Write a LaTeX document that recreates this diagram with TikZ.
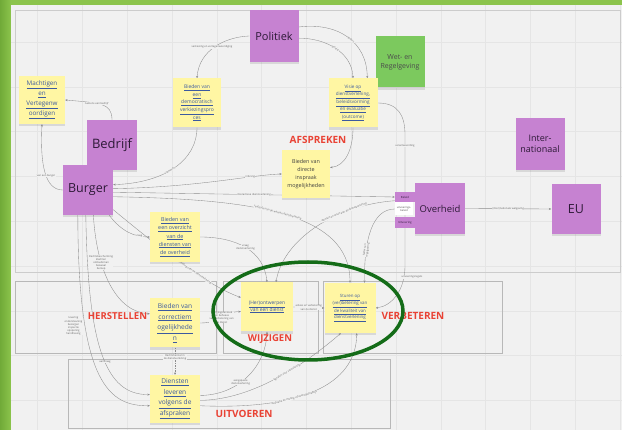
\documentclass[tikz,border=0pt]{standalone}
\usepackage{fontspec}
\setmainfont{Open Sans}
\usetikzlibrary{arrows.meta,shadows}
\definecolor{canvasc}{RGB}{241,241,241}
\definecolor{frameg}{RGB}{140,196,76}
\definecolor{frameg2}{RGB}{112,170,56}
\definecolor{purp}{RGB}{198,130,209}
\definecolor{purptxt}{RGB}{45,25,55}
\definecolor{notey}{RGB}{255,246,163}
\definecolor{noteg}{RGB}{124,201,94}
\definecolor{linkc}{RGB}{60,90,160}
\definecolor{redlab}{RGB}{233,66,52}
\definecolor{connc}{RGB}{140,140,140}
\definecolor{ringc}{RGB}{20,108,24}
\definecolor{gridc}{RGB}{229,229,229}
\pgfdeclarelayer{back}
\pgfdeclarelayer{edges}
\pgfsetlayers{back,edges,main}
\newcommand{\lk}[1]{\underline{#1}}
\newcommand{\fs}[2]{\fontsize{#1}{#2}\selectfont}
\tikzset{
  note/.style={inner sep=0pt, align=center, drop shadow={opacity=0.22, shadow xshift=0pt, shadow yshift=-2.2pt}},
  pnote/.style={note, fill=purp, text=purptxt},
  ynote/.style={note, fill=notey, text=linkc},
  gnote/.style={note, fill=noteg, text=black!70},
  tabbox/.style={fill=purp, text=purptxt, inner sep=0pt, minimum width=20pt, font=\fs{2.8}{3.2}},
  redl/.style={text=redlab, font=\bfseries\fs{10}{12}},
  region/.style={draw=black!28, line width=0.6pt},
  conn/.style={draw=connc, line width=0.35pt, -{Stealth[length=2.4pt,width=2pt]}},
  lbl/.style={font=\fs{2.6}{3.1}, text=black!62, fill=canvasc, inner sep=0.3pt, align=center},
}
\begin{document}
\begin{tikzpicture}[x=1pt,y=-1pt]
\useasboundingbox (0,0) rectangle (622,430);

\begin{pgfonlayer}{back}
  \fill[frameg] (0,0) rectangle (622,430);
  \shade[left color=frameg2, right color=frameg] (0,0) rectangle (11,430);
  \fill[canvasc] (11,5) rectangle (622,430);
  \foreach \i in {0,...,13} {\draw[gridc, line width=0.3pt] ({37.5+44.8*\i},5) -- ({37.5+44.8*\i},430);}
  \foreach \j in {0,...,8} {\draw[gridc, line width=0.3pt] (11,{42+44.8*\j}) -- (622,{42+44.8*\j});}
  \draw[black!20, line width=0.8pt] (15,10) rectangle (620,272);
  \draw[region] (15,281) rectangle (216,353);
  \draw[region] (223,281) rectangle (318,353);
  \draw[region] (323,281) rectangle (502,353);
  \draw[region] (68,359) rectangle (390,428);
\end{pgfonlayer}

% nodes
\node[pnote, minimum width=49pt, minimum height=52pt, font=\fs{11}{13}] (politiek) at (274,36) {Politiek};
\node[gnote, minimum width=49pt, minimum height=51pt, font=\fs{7}{9}] (wet) at (400,62) {Wet- en\\Regelgeving};
\node[pnote, minimum width=49pt, minimum height=52pt, font=\fs{9}{11.5}] (inter) at (540,144) {Inter-\\nationaal};
\node[ynote, minimum width=46pt, minimum height=48pt, font=\fs{6.3}{10}] (macht) at (42,100) {\lk{Machtigen}\\\lk{en}\\\lk{Vertegenw}\\\lk{oordigen}};
\node[pnote, minimum width=50pt, minimum height=50pt, font=\fs{13}{15}] (bedrijf) at (112,145) {Bedrijf};
\node[pnote, minimum width=50pt, minimum height=50pt, font=\fs{12.5}{15}] (burger) at (88,190) {Burger};
\node[ynote, minimum width=48pt, minimum height=49pt, font=\fs{5}{7.6}] (demo) at (197,103) {\lk{Bieden van}\\\lk{een}\\\lk{democratisch}\\\lk{verkiezingspro}\\\lk{ces}};
\node[ynote, minimum width=49pt, minimum height=49pt, font=\fs{4.6}{7.4}] (visie) at (353,103) {\lk{Visie op}\\\lk{dienstverlening,}\\\lk{beleidsvorming}\\\lk{en evaluatie}\\\lk{(outcome)}};
\node[redl] (afspr) at (318,140) {AFSPREKEN};
\node[ynote, minimum width=48pt, minimum height=48pt, text=black!75, font=\fs{5.4}{8}] (inspraak) at (306,174) {Bieden van\\directe\\inspraak\\mogelijkheden};
\node[pnote, minimum width=50pt, minimum height=51pt, font=\fs{9.5}{11}] (overheid) at (440,208.5) {Overheid};
\node[tabbox, minimum height=10pt] (beleid) at (405,197) {Beleid};
\node[fill=white, inner sep=0pt, minimum width=18pt, minimum height=13pt, font=\fs{2.6}{3}, align=center, text=black!70] (uvb) at (404,209) {uitvoerings-\\beleid};
\node[tabbox, minimum height=11pt] (uitv) at (405,222.5) {Uitvoering};
\node[pnote, minimum width=49pt, minimum height=50pt, font=\fs{12.5}{15}] (eu) at (576,209) {EU};
\node[ynote, minimum width=50pt, minimum height=50pt, font=\fs{5.4}{8.2}] (overzicht) at (175,237) {\lk{Bieden van}\\\lk{een overzicht}\\\lk{van de}\\\lk{diensten van}\\\lk{de overheid}};
\node[ynote, minimum width=50pt, minimum height=49pt, font=\fs{6.6}{10.7}] (correctie) at (175,323) {\lk{Bieden van}\\\lk{correctiem}\\\lk{ogelijkhede}\\\lk{n}};
\node[ynote, minimum width=50pt, minimum height=48pt, font=\fs{6.6}{10.7}] (diensten) at (175,399) {\lk{Diensten}\\\lk{leveren}\\\lk{volgens de}\\\lk{afspraken}};
\node[ynote, minimum width=52pt, minimum height=49pt, font=\fs{4.9}{7}] (heront) at (267,307) {\lk{(Her)ontwerpen}\\\lk{van een dienst}};
\node[ynote, minimum width=51pt, minimum height=50pt, font=\fs{4.4}{6.2}] (sturen) at (350,308) {\lk{Sturen op}\\\lk{(ver)betering van}\\\lk{de kwaliteit van}\\\lk{dienstverlening}};

\node[redl, font=\bfseries\fs{9.6}{12}] (herst) at (117.5,316) {HERSTELLEN};
\node[redl, font=\bfseries\fs{9.5}{11}] (wijz) at (270,339) {WIJZIGEN};
\node[redl] (verb) at (413,316) {VERBETEREN};
\node[redl] (uitvo) at (244,414) {UITVOEREN};

% connectors
\begin{pgfonlayer}{edges}
  \draw[conn] (politiek.west) .. controls (225,37) and (199,50) .. (demo.north) node[lbl] at (212,47) {verkiezing en vertegenwoordiging};
  \draw[conn] (politiek.20) .. controls (338,22) and (367,42) .. node[lbl, sloped, pos=0.55] {kaders} (visie.60);
  \draw[conn] (politiek.-5) .. controls (325,38) and (352,52) .. node[lbl, sloped, pos=0.5] {beleid} (visie.north);
  \draw[conn] (demo.south) .. controls (197,160) and (165,183) .. node[lbl, sloped, pos=0.55] {stemmen} (burger.12);
  \draw[conn] (visie.south) .. controls (353,150) and (345,166) .. (inspraak.15);
  \draw[conn] (burger.3) .. controls (200,187) and (250,175) .. node[lbl, pos=0.72] {inbreng} (inspraak.west);
  \draw[conn] (burger.-5) -- node[lbl, pos=0.5] {interactieve dienstverlening} (beleid.west);
  \draw[conn] (burger.-15) .. controls (250,199) and (350,212) .. node[lbl, sloped, pos=0.48] {realisatie van de wensen dienstverlening} (sturen.north);
  \draw[conn] (beleid.200) .. controls (335,205) and (283,240) .. node[lbl, sloped, pos=0.3] {wensen en eisen aan de dienstverlening} (heront.70);
  \draw[conn] (uvb.west) .. controls (372,209) and (364,240) .. node[lbl, sloped, pos=0.72] {kaders en\\regelgeving} (sturen.60);
  \draw[conn] (visie.east) .. controls (398,103) and (405,115) .. (405,135) -- node[lbl, pos=0.08] {verantwoording} (405,266) .. controls (405,290) and (392,306) .. (sturen.east) node[lbl] at (412,277) {uitvoeringsregels};
  \draw[conn] (overheid.east) -- node[lbl] {(inter)nationale wetgeving} (eu.west);
  \draw[conn] (bedrijf.north) .. controls (112,103) and (100,103) .. node[lbl, pos=0.6] {namens een bedrijf} (macht.east);
  \draw[conn] (burger.west) .. controls (45,190) and (40,165) .. node[lbl, pos=0.45] {van een burger} (macht.south);
  \draw[conn] (burger.-50) .. controls (122,232) and (135,237) .. node[lbl, pos=0.75] {vraag} (overzicht.west);
  \draw[conn] (burger.-38) .. controls (150,240) and (205,285) .. node[lbl, sloped, pos=0.63] {melding over de dienstverlening} (heront.160);
  \draw[conn] (overzicht.east) .. controls (235,237) and (264,250) .. node[lbl, pos=0.5] {vraag\\dienstverlening} (heront.north);
  \draw[conn] (burger.-112) .. controls (78,385) and (110,406) .. (diensten.195) node[lbl] at (73.5,326) {levering\\ondersteuning\\bezorgen\\inspectie\\opsporing\\handhaving};
  \draw[conn] (burger.-78) .. controls (97,275) and (118,312) .. node[lbl, pos=0.3] {Rechtsbescherming\\klachten\\ombudsman\\bezwaar\\beroep} (correctie.160);
  \draw[conn] (burger.-95) .. controls (88,345) and (105,395) .. node[lbl, pos=0.55] {aanvraag} (diensten.170);
  \draw[conn] (correctie.east) .. controls (222,323) and (222,312) .. node[lbl, pos=0.5] {wijzigingsverzoek\\ten behoeve\\van verbetering van\\de dienst} (heront.190);
  \draw[conn, dash pattern=on 1.5pt off 1pt] (correctie.south) -- node[lbl, pos=0.35] {Rechtsherstel in\\de dienstverlening} (diensten.north);
  \draw[conn] (heront.east) -- node[lbl] {advies en verbetering\\van de dienst} (sturen.west);
  \draw[conn] (diensten.8) .. controls (240,395) and (266,365) .. node[lbl, pos=0.4] {aangepaste\\dienstverlening} (heront.south);
  \draw[conn] (diensten.-3) .. controls (255,400) and (310,360) .. node[lbl, sloped, pos=0.55] {signalen voor verbetering} (sturen.-110);
  \draw[conn] (diensten.-15) .. controls (300,410) and (356,385) .. node[lbl, sloped, pos=0.38] {evaluatie en meting uitvoeringspraktijk} (sturen.-75);
\end{pgfonlayer}

\draw[ringc, line width=3.5pt] (308,311) ellipse [x radius=95, y radius=49];
\end{tikzpicture}
\end{document}
